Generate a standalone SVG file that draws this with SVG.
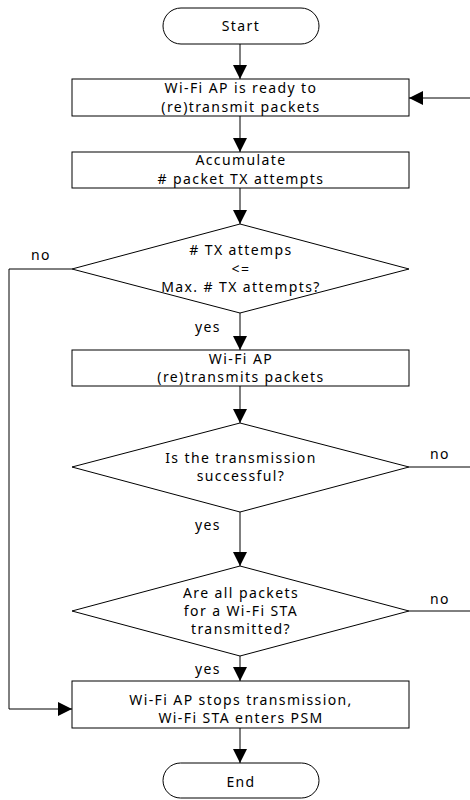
<svg xmlns="http://www.w3.org/2000/svg" width="470" height="800" viewBox="0 0 470 800">
<style>
.s{fill:#fff;stroke:#000;stroke-width:1}
.c{fill:none;stroke:#000;stroke-width:1}
text{font-family:"Noto Sans","Open Sans",sans-serif;font-size:14px;letter-spacing:1.4px;fill:#000}
.m{text-anchor:middle}
</style>
<defs>
<marker id="a" markerUnits="userSpaceOnUse" markerWidth="14" markerHeight="14" refX="14" refY="7" orient="auto">
<path d="M0,0 L14,7 L0,14 z" fill="#000"/>
</marker>
</defs>
<rect width="470" height="800" fill="#fff"/>
<g id="start"><rect class="s" x="163" y="8" width="156" height="36" rx="18" ry="18"/><text class="m" x="241" y="31">Start</text></g>
<g id="ready"><rect class="s" x="72" y="79" width="337" height="37"/><text class="m" x="241" y="93">Wi-Fi AP is ready to</text><text class="m" x="241" y="112">(re)transmit packets</text></g>
<g id="accumulate"><rect class="s" x="72" y="152" width="337" height="36"/><text class="m" x="241" y="165">Accumulate</text><text class="m" x="241" y="184"># packet TX attempts</text></g>
<g id="d1"><polygon class="s" points="240,224 409,269 240,313 72,269"/><text class="m" x="241" y="255"># TX attemps</text><text class="m" x="241" y="274">&lt;=</text><text class="m" x="241" y="292">Max. # TX attempts?</text></g>
<g id="tx"><rect class="s" x="72" y="350" width="337" height="36"/><text class="m" x="241" y="364">Wi-Fi AP</text><text class="m" x="241" y="382">(re)transmits packets</text></g>
<g id="d2"><polygon class="s" points="240,423 409,467 240,512 72,467"/><text class="m" x="241" y="463">Is the transmission</text><text class="m" x="241" y="481">successful?</text></g>
<g id="d3"><polygon class="s" points="240,566 409,611 240,656 72,611"/><text class="m" x="241" y="598">Are all packets</text><text class="m" x="241" y="616">for a Wi-Fi STA</text><text class="m" x="241" y="634">transmitted?</text></g>
<g id="stop"><rect class="s" x="72" y="681" width="337" height="47"/><text class="m" x="241" y="705">Wi-Fi AP stops transmission,</text><text class="m" x="241" y="723">Wi-Fi STA enters PSM</text></g>
<g id="end"><rect class="s" x="163" y="763" width="156" height="35" rx="17.5" ry="17.5"/><text class="m" x="241" y="787">End</text></g>
<g id="connectors">
<path class="c" d="M240,44 V79" marker-end="url(#a)"/>
<path class="c" d="M240,116 V152" marker-end="url(#a)"/>
<path class="c" d="M240,188 V224" marker-end="url(#a)"/>
<path class="c" d="M240,313 V350" marker-end="url(#a)"/>
<path class="c" d="M240,386 V423" marker-end="url(#a)"/>
<path class="c" d="M240,512 V566" marker-end="url(#a)"/>
<path class="c" d="M240,656 V681" marker-end="url(#a)"/>
<path class="c" d="M240,728 V763" marker-end="url(#a)"/>
<path class="c" d="M72,269 H9 V709 H72" marker-end="url(#a)"/>
<path class="c" d="M470,98 H409" marker-end="url(#a)"/>
<path class="c" d="M409,467 H470"/>
<path class="c" d="M409,611 H470"/>
<text class="m" x="41" y="260">no</text>
<text class="m" x="208" y="332">yes</text>
<text class="m" x="440" y="459">no</text>
<text class="m" x="440" y="604">no</text>
<text class="m" x="208" y="530">yes</text>
<text class="m" x="208" y="674">yes</text>
</g>
</svg>
